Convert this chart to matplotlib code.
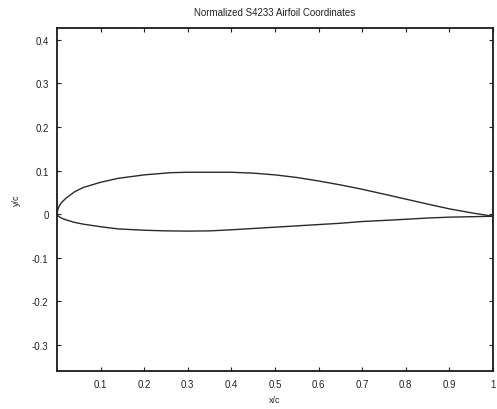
import matplotlib
matplotlib.use("Agg")
import matplotlib.pyplot as plt

# Normalized airfoil coordinates (chord-wise x/c, thickness y/c)
upper_x = [0.0, 0.002, 0.005, 0.01, 0.02, 0.04, 0.06, 0.10, 0.14, 0.20, 0.26, 0.30, 0.35,
           0.40, 0.45, 0.50, 0.55, 0.60, 0.65, 0.70, 0.78, 0.85, 0.90, 0.95, 1.0]
upper_y = [0.0, 0.011, 0.018, 0.026, 0.036, 0.051, 0.061, 0.073, 0.082, 0.090, 0.095, 0.096, 0.096,
           0.096, 0.094, 0.090, 0.084, 0.076, 0.067, 0.057, 0.039, 0.023, 0.012, 0.003, -0.005]

lower_x = [0.0, 0.002, 0.005, 0.01, 0.02, 0.04, 0.06, 0.10, 0.14, 0.20, 0.25, 0.30, 0.35,
           0.40, 0.45, 0.50, 0.55, 0.65, 0.70, 0.78, 0.85, 0.90, 0.95, 1.0]
lower_y = [0.0, -0.004, -0.006, -0.009, -0.013, -0.019, -0.023, -0.029, -0.034, -0.037, -0.0385, -0.039, -0.0385,
           -0.036, -0.033, -0.030, -0.027, -0.021, -0.017, -0.013, -0.009, -0.007, -0.006, -0.005]

x_ticks = [0.1, 0.2, 0.3, 0.4, 0.5, 0.6, 0.7, 0.8, 0.9, 1.0]
x_tick_labels = ["0.1", "0.2", "0.3", "0.4", "0.5", "0.6", "0.7", "0.8", "0.9", "1"]
y_ticks = [-0.3, -0.2, -0.1, 0.0, 0.1, 0.2, 0.3, 0.4]
y_tick_labels = ["-0.3", "-0.2", "-0.1", "0", "0.1", "0.2", "0.3", "0.4"]

plt.rcParams["font.family"] = ["Liberation Sans", "DejaVu Sans"]

fig = plt.figure(figsize=(4.97, 4.10), dpi=100)
ax = fig.add_axes([57 / 497, 1 - 372 / 410, 436 / 497, 343 / 410])

line_color = "#2a2a2a"
ax.plot(upper_x, upper_y, color=line_color, lw=1.0)
ax.plot(lower_x, lower_y, color=line_color, lw=1.0)

ax.set_xlim(0, 1)
ax.set_ylim(-0.36, 0.427)

ax.set_xticks(x_ticks)
ax.set_xticklabels(x_tick_labels)
ax.set_yticks(y_ticks)
ax.set_yticklabels(y_tick_labels)

ax.tick_params(direction="in", length=3, width=0.8, top=True, right=True,
               labelsize=7, colors="#222222", pad=6)

for spine in ax.spines.values():
    spine.set_linewidth(1.3)
    spine.set_color("#1a1a1a")

ax.set_title("Normalized S4233 Airfoil Coordinates", fontsize=7, pad=9, color="#222222")
ax.set_xlabel("x/c", fontsize=6.5, labelpad=4, color="#222222")
ax.set_ylabel("y/c", fontsize=6.5, labelpad=8, color="#222222")

fig.savefig("out.png", dpi=100)
